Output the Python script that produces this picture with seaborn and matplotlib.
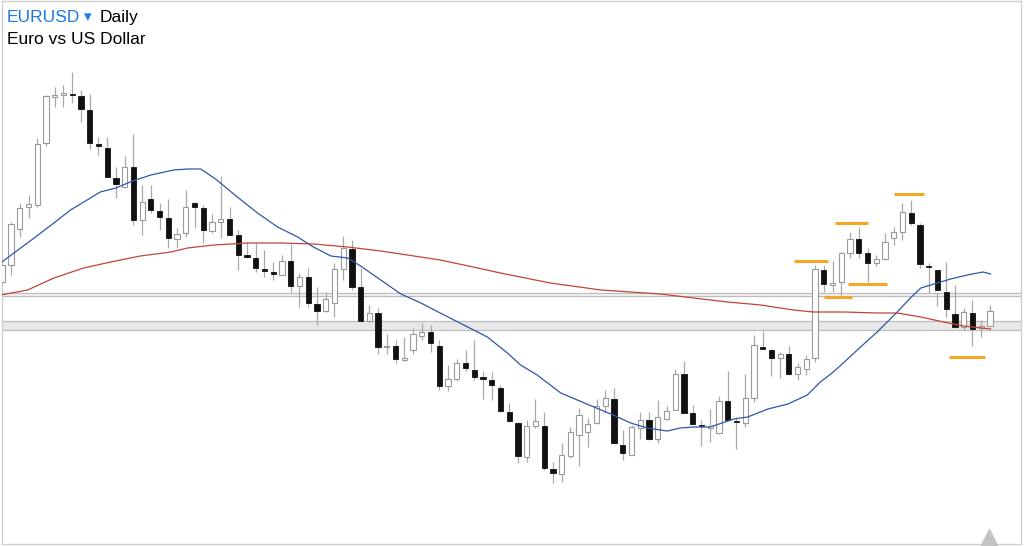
import matplotlib
matplotlib.use("Agg")
import matplotlib.pyplot as plt
import seaborn as sns
import pandas as pd

# EURUSD daily candles (price units, higher = up)
opens = [218, 235, 271, 293, 295, 357, 403.5, 405.5, 406, 404, 390, 356, 352, 322.5, 313, 333,
         280, 301, 289, 282, 261, 267, 297, 292, 269, 278.5, 281, 265, 244.5, 242,
         231, 227.5, 225, 239, 214, 223, 196, 189, 197, 231, 251, 213, 179, 187, 153,
         154, 140.5, 150, 164, 168, 154, 114, 121, 137, 130, 122.5, 120, 112, 88, 77,
         43, 74, 74, 31, 26, 44, 65, 68, 77, 94, 101, 55, 45, 72, 80, 61, 81, 90,
         126, 87, 75, 72.5, 67, 99, 79, 77, 102, 153, 150, 142, 146, 126, 131, 142,
         230, 215, 218, 247, 261, 247, 237, 241, 262, 268, 287, 275, 234, 230, 208,
         186, 173, 187, 172.5, 174]
highs = [237, 278, 297, 305, 362, 405, 413, 415, 428, 410, 406, 363, 363, 333, 344, 366,
         315, 315, 297, 301, 272, 310, 298, 295, 286, 324, 293, 270, 258, 257,
         250, 238, 245, 256, 227, 232, 213, 208, 237, 264, 260, 232, 195, 192, 166,
         160, 163, 172, 177, 175, 160, 135, 141, 150, 160, 129, 128, 115, 97, 78,
         80, 101, 88, 38, 57, 73, 92, 82, 101, 110, 112, 70, 75, 88, 88, 100, 94, 131,
         139, 95, 80, 91, 104, 129, 83, 126, 165, 169, 151, 148, 154, 137, 145, 235,
         235, 239, 248, 268, 273, 252, 245, 267, 273, 297, 300, 277, 237, 207, 238,
         215, 192, 200, 180, 195]
lows = [216, 225, 263, 282, 293, 354, 393, 393, 397, 378, 351, 345, 323, 302, 312, 275,
        265, 287, 270, 252, 252, 263, 272, 257, 267, 262, 265, 230, 242, 228,
        223, 220, 225, 208, 193, 193, 175, 188, 183, 220, 210, 179, 178, 146, 146,
        137, 139, 146, 160, 148, 110, 109, 119, 129, 120, 101, 100, 88, 78, 37,
        38, 72, 30, 17, 18, 42, 34, 53, 76, 87, 56, 40, 45, 61, 60, 57, 80, 90,
        87, 76, 54, 58, 66, 79, 51, 73, 98, 151, 124, 122, 125, 120, 125, 138,
        208, 208, 205, 242, 242, 218, 234, 240, 255, 260, 275, 232, 207, 194, 183,
        172, 170, 154, 163, 174]
closes = [235, 276, 292, 296, 356, 404, 404, 406, 405, 391, 357, 354.5, 323, 316, 333, 280,
          298, 290, 283, 262, 266, 293, 293, 270, 278, 281, 265, 245, 243.5, 232,
          229, 226.5, 239, 214, 223, 197, 189, 201, 231, 252, 213, 179, 187, 153, 154.5,
          141, 142, 166, 168, 157, 114, 121, 137, 132, 123, 121.5, 115, 89, 79, 44,
          74, 79, 32, 27, 45, 68, 85, 76, 94, 102, 57, 47, 73, 80, 61, 83, 89, 126,
          87, 76, 74, 73.5, 99, 80, 78, 102, 155, 151, 142, 146, 126, 133, 141, 231,
          216, 217, 247, 261, 247, 237, 241, 258, 268, 288, 277, 236, 233, 210, 191,
          173, 188, 171, 173.5, 189]

# moving averages: (candle index, value)
fast_idx = [-0.2, 2.1, 3.8, 5.9, 7.8, 9.9, 11.2, 13.0, 14.9, 17.0, 19.6, 21.2, 22.7, 24.4,
            26.9, 29.2, 31.5, 33.8, 35.6, 37.6, 39.5, 41.0, 43.3, 45.6, 47.9, 50.1, 52.8,
            55.5, 57.8, 59.3, 61.2, 63.9, 65.8, 67.7, 69.9, 71.9, 73.8, 76.1, 77.6, 79.1,
            81.0, 83.7, 85.3, 87.6, 89.9, 92.1, 93.6, 94.8, 95.6, 98.2, 100.1, 102.4, 103.9,
            105.1, 106.6, 108.5, 110.4, 112.2, 113.1]
fast_ma = [237, 252, 263, 277, 290, 301, 308, 312, 319, 325, 330, 331, 331, 321,
           303, 287, 273, 263, 253, 244, 242, 234, 220, 206, 197, 187, 175,
           163, 147, 135, 125, 107, 100, 93, 85, 77, 72, 69, 72, 73,
           73, 81, 83, 91, 96, 105, 118, 126, 132, 153, 168, 188, 202,
           212, 216, 221, 225, 228, 226]
slow_idx = [-0.2, 2.9, 5.9, 9.3, 12.4, 15.8, 19.3, 21.2, 24.2, 28.1, 31.8, 35.6, 39.5, 43.3,
            47.1, 50.1, 52.8, 57.0, 62.7, 68.5, 75.3, 79.1, 83.0, 86.8, 90.5, 92.8, 96.3,
            100.1, 102.4, 105.1, 107.7, 110.0, 113.1]
slow_ma = [205, 210, 222, 232, 238, 244, 248, 252, 255, 257, 257, 256, 253, 249,
           244, 240, 235, 227, 217, 210, 206, 202, 198, 195, 190, 188, 188,
           187, 187, 183, 178, 174, 171]

# orange swing marks: (start idx, end idx, level)
mark_start = [90.6, 94.0, 95.3, 96.8, 102.0, 108.3]
mark_end = [94.5, 97.2, 99.0, 101.2, 105.5, 112.4]
mark_level = [239, 203, 277, 216, 306, 143]

# grey support/resistance zones
zone_lines = [207.5, 204, 179, 170]

candles = pd.DataFrame({"open": opens, "high": highs, "low": lows, "close": closes})
candles["idx"] = range(len(candles))
candles["up"] = candles["close"] >= candles["open"]
candles["bottom"] = candles[["open", "close"]].min(axis=1)
candles["height"] = (candles["close"] - candles["open"]).abs().clip(lower=1.2)

sns.set_theme(style="white")
plt.rcParams["font.family"] = ["Liberation Sans", "DejaVu Sans"]

fig = plt.figure(figsize=(10.24, 5.46), dpi=100)
fig.patch.set_facecolor("white")
W, H = 1024, 546
ax = fig.add_axes([2 / W, 2 / H, 1019 / W, 543 / H])
ax.set_xlim(-0.034, 116.56)
ax.set_ylim(-44, 499)

# zones
ax.axhspan(204, 207.5, color="#f4f4f4", zorder=0, lw=0)
ax.axhspan(170, 179, color="#e8e8e8", zorder=0, lw=0)
for lvl in zone_lines:
    ax.axhline(lvl, color="#bdbdbd", lw=0.9, zorder=1)

# wicks
ax.vlines(candles["idx"], candles["low"], candles["high"], color="#a8a8a8", lw=0.9, zorder=2)

# bodies
up = candles[candles["up"]]
dn = candles[~candles["up"]]
ax.bar(up["idx"], up["height"], bottom=up["bottom"], width=0.6, color="white",
       edgecolor="#9a9a9a", linewidth=0.8, zorder=3)
ax.bar(dn["idx"], dn["height"], bottom=dn["bottom"], width=0.6, color="#111111",
       edgecolor="#111111", linewidth=0.6, zorder=3)

# moving averages
sns.lineplot(x=fast_idx, y=fast_ma, ax=ax, color="#2b59a8", lw=0.9, zorder=4)
sns.lineplot(x=slow_idx, y=slow_ma, ax=ax, color="#c0453a", lw=0.9, zorder=4)

# swing marks
ax.hlines(mark_level, mark_start, mark_end, color="#f5a623", lw=2.2, zorder=5)

ax.set_xticks([])
ax.set_yticks([])
for s in ax.spines.values():
    s.set_color("#cfcfcf")
    s.set_linewidth(1.0)

# scroll arrow, bottom right
ax.plot([0.9685], [0.012], marker="^", markersize=11, color="#c4c4c4",
        transform=ax.transAxes, clip_on=False, zorder=6)

# header text
fig.text(7 / W, 1 - 22 / H, "EURUSD", color="#1a7ae0", fontsize=12.5, va="baseline")
fig.text(84 / W, 1 - 21 / H, "\u25be", color="#1a7ae0", fontsize=11, va="baseline",
         family=["DejaVu Sans"])
fig.text(100 / W, 1 - 22 / H, "Daily", color="black", fontsize=12.5, va="baseline")
fig.text(7 / W, 1 - 44 / H, "Euro vs US Dollar", color="black", fontsize=12.5, va="baseline")

fig.savefig("out.png", dpi=100, facecolor="white")
